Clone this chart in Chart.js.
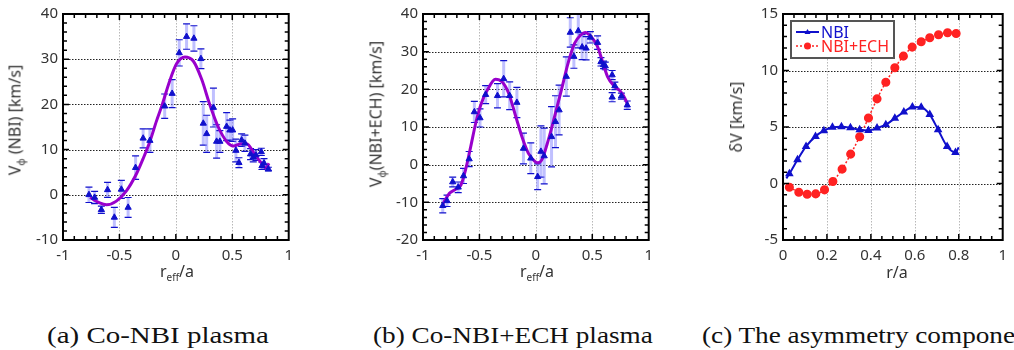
<!DOCTYPE html>
<html>
<head>
<meta charset="utf-8">
<script src="https://cdn.jsdelivr.net/npm/chart.js@4.4.1/dist/chart.umd.min.js"></script>
<style>
body { margin: 0; background: #fff; width: 1014px; height: 350px; overflow: hidden; position: relative; font-family: "Noto Sans", sans-serif; }
.box { position: absolute; top: 0; height: 290px; }
.lab { position: absolute; font-size: 16px; color: #333; white-space: nowrap; line-height: 1; }
.ylab { transform: translate(-50%, -50%) rotate(-90deg); }
.xlab { transform: translate(-50%, -50%); }
.lab sub { font-size: 10px; vertical-align: -4px; }
.cap { position: absolute; top: 323px; font-family: "Liberation Serif", serif; font-size: 24px; line-height: 24px; color: #111; white-space: nowrap; transform-origin: 0 0; }
</style>
</head>
<body>
<div class="box" style="left:0;width:300px"><canvas id="chartA"></canvas></div>
<div class="box" style="left:340px;width:320px"><canvas id="chartB"></canvas></div>
<div class="box" style="left:700px;width:314px"><canvas id="chartC"></canvas></div>

<div class="lab ylab" style="left:16px;top:120px">V<sub>φ</sub> (NBI) [km/s]</div>
<div class="lab xlab" style="left:177px;top:272px">r<sub>eff</sub>/a</div>
<div class="lab ylab" style="left:377px;top:114px">V<sub>φ</sub>(NBI+ECH) [km/s]</div>
<div class="lab xlab" style="left:537px;top:272px">r<sub>eff</sub>/a</div>
<div class="lab ylab" style="left:736px;top:117px">δV [km/s]</div>
<div class="lab xlab" style="left:897px;top:272px">r/a</div>

<div class="cap" id="capA" style="left:47px" data-w="222">(a) Co-NBI plasma</div>
<div class="cap" id="capB" style="left:373px" data-w="280">(b) Co-NBI+ECH plasma</div>
<div class="cap" id="capC" style="left:702px">(c) The asymmetry component</div>

<script>
// (a) Co-NBI: measured points, error bars and fitted curve
const rA = [-0.77, -0.72, -0.66, -0.605, -0.545, -0.483, -0.423, -0.357, -0.29, -0.23,
            -0.099, -0.033, 0.03, 0.095, 0.16, 0.222, 0.243, 0.273, 0.333, 0.361,
            0.39, 0.45, 0.479, 0.503, 0.532, 0.559, 0.583, 0.612, 0.662, 0.686,
            0.71, 0.757, 0.763, 0.781, 0.82]
const vA = [0, -0.6, -3.3, 1.1, -5.0, 1.2, -2.8, 6.0, 12.5, 12.0,
            19.6, 22.4, 31.4, 35.0, 34.6, 30.1, 15.8, 13.5, 19.3, 11.8,
            11.8, 15.1, 14.3, 14.3, 9.8, 7.1, 12.1, 11.4, 9.0, 8.3,
            8.8, 9.5, 6.4, 7.0, 5.7]
const eA = [1.7, 1.35, 0.8, 1.65, 2.2, 2.0, 2.2, 2.6, 2.1, 2.6,
            2.7, 3.1, 2.9, 2.8, 2.8, 2.2, 4.8, 4.1, 4.3, 3.7,
            2.4, 3.1, 2.2, 2.5, 2.5, 1.1, 1.4, 1.8, 1.2, 1.0,
            1.2, 0.8, 0.8, 1.0, 0.4]
const fitRA = [-0.76, -0.675, -0.615, -0.527, -0.44, -0.35, -0.29, -0.23, -0.172, -0.12, -0.06, 0.006,
               0.08, 0.154, 0.228, 0.30, 0.376, 0.45, 0.51, 0.58, 0.627, 0.70, 0.76, 0.80, 0.825]
const fitVA = [-0.6, -1.8, -2.2, -1.4, 0.8, 4.6, 8.0, 11.8, 16.3, 20.0, 24.8, 29.0,
               30.5, 29.6, 25.6, 20.0, 15.0, 11.8, 10.8, 11.3, 11.3, 8.9, 7.0, 5.9, 7.0]

// (b) Co-NBI+ECH
const rB = [-0.825, -0.787, -0.737, -0.688, -0.641, -0.591, -0.545, -0.495, -0.445, -0.34,
            -0.285, -0.232, -0.168, -0.11, -0.045, 0.016, 0.045, 0.074, 0.139, 0.174,
            0.206, 0.27, 0.305, 0.337, 0.376, 0.41, 0.445, 0.483, 0.547, 0.577,
            0.60, 0.615, 0.676, 0.676, 0.70, 0.758, 0.81]
const vB = [-10.9, -9.6, -4.6, -6.0, -3.0, 1.5, 14.0, 12.4, 18.6, 18.3,
            22.8, 18.3, 16.5, 4.3, 1.7, -3.2, 3.5, 2.3, 7.4, 11.4,
            14.5, 23.4, 35.1, 28.7, 35.5, 31.2, 30.9, 33.8, 32.4, 27.3,
            26.5, 26.2, 23.8, 17.9, 20.9, 18.2, 15.8]
const eB = [1.9, 1.5, 1.3, 1.4, 2.0, 2.0, 2.8, 2.4, 2.4, 3.2,
            4.8, 3.7, 4.0, 4.1, 4.1, 3.4, 6.8, 7.4, 8.0, 6.9,
            6.6, 5.2, 3.9, 3.1, 4.5, 3.3, 3.1, 1.5, 1.8, 1.1,
            1.0, 1.0, 1.2, 1.2, 1.0, 0.8, 1.1]
const fitRB = [-0.825, -0.766, -0.708, -0.664, -0.62, -0.577, -0.533, -0.489, -0.43, -0.358,
               -0.30, -0.24, -0.182, -0.124, -0.066, -0.007, 0.016, 0.051, 0.11, 0.168,
               0.226, 0.285, 0.343, 0.40, 0.436, 0.489, 0.547, 0.591, 0.635, 0.693,
               0.752, 0.796, 0.81]
const fitVB = [-10.5, -7.6, -6.5, -5.4, -1.0, 4.8, 11.0, 15.8, 19.8, 22.7,
               22.0, 18.9, 13.2, 7.5, 3.0, 0.8, 0.5, 1.2, 6.5, 13.0,
               19.8, 26.9, 32.2, 34.5, 35.1, 34.0, 31.3, 27.3, 23.4, 20.9,
               19.4, 17.2, 16.1]

// (c) asymmetry component
const rNbi = [0.015, 0.029, 0.066, 0.105, 0.148, 0.186, 0.225, 0.266, 0.307, 0.349, 0.389,
              0.428, 0.468, 0.509, 0.55, 0.589, 0.629, 0.668, 0.706, 0.747, 0.785, 0.80]
const dvNbi = [0.45, 0.86, 2.1, 3.28, 4.17, 4.67, 4.97, 5.03, 4.94, 4.76, 4.70,
               4.91, 5.2, 5.77, 6.33, 6.78, 6.75, 6.1, 4.76, 3.28, 2.75, 3.2]
const rEch = [0.029, 0.072, 0.11, 0.149, 0.189, 0.227, 0.269, 0.308, 0.349, 0.389,
              0.428, 0.468, 0.509, 0.548, 0.588, 0.629, 0.668, 0.708, 0.749, 0.788]
const dvEch = [-0.33, -0.77, -0.95, -0.92, -0.56, 0.18, 1.27, 2.6, 4.14, 5.8,
               7.49, 8.96, 10.24, 11.27, 12.07, 12.54, 12.9, 13.17, 13.34, 13.28]

const BLUE = '#1010cc'
const PURPLE = '#9900cc'
const RED = '#ff2222'
const tickFont = { family: 'Noto Sans', size: 15 }

const pts = (xs, ys) => xs.map((x, i) => ({ x, y: ys[i] }))
const fmt = v => String(+v.toFixed(2))

// dotted grid, inward ticks on all four sides, black frame
const frame = {
  id: 'frame',
  beforeDatasetsDraw(chart, args, o) {
    const { ctx, chartArea: a, scales: { x, y } } = chart
    ctx.save()
    ctx.lineWidth = 1
    ctx.setLineDash([1.5, 1.5])
    ctx.strokeStyle = '#b8b8b8'
    x.ticks.forEach(t => {
      if (t.value <= x.min || t.value >= x.max) return
      const px = Math.round(x.getPixelForValue(t.value)) + 0.5
      ctx.beginPath(); ctx.moveTo(px, a.top); ctx.lineTo(px, a.bottom); ctx.stroke()
    })
    ctx.strokeStyle = '#222'
    y.ticks.forEach(t => {
      if (t.value <= y.min || t.value >= y.max) return
      const py = Math.round(y.getPixelForValue(t.value)) + 0.5
      ctx.beginPath(); ctx.moveTo(a.left, py); ctx.lineTo(a.right, py); ctx.stroke()
    })
    ctx.restore()
  },
  afterDraw(chart, args, o) {
    const { ctx, chartArea: a, scales: { x, y } } = chart
    ctx.save()
    ctx.strokeStyle = '#000'
    ctx.lineWidth = 1.5
    const nx = Math.round((x.max - x.min) / o.xStep)
    for (let i = 1; i < nx; i++) {
      const px = x.getPixelForValue(x.min + i * o.xStep)
      const len = i % o.xEvery === 0 ? 6 : 4
      ctx.beginPath()
      ctx.moveTo(px, a.bottom); ctx.lineTo(px, a.bottom - len)
      ctx.moveTo(px, a.top); ctx.lineTo(px, a.top + len)
      ctx.stroke()
    }
    const ny = Math.round((y.max - y.min) / o.yStep)
    for (let i = 1; i < ny; i++) {
      const py = y.getPixelForValue(y.min + i * o.yStep)
      const len = i % o.yEvery === 0 ? 6 : 4
      ctx.beginPath()
      ctx.moveTo(a.left, py); ctx.lineTo(a.left + len, py)
      ctx.moveTo(a.right, py); ctx.lineTo(a.right - len, py)
      ctx.stroke()
    }
    ctx.lineWidth = 2
    ctx.strokeRect(a.left, a.top, a.right - a.left, a.bottom - a.top)
    ctx.restore()
  }
}

// vertical error bars for datasets that carry an err array
const errbars = {
  id: 'errbars',
  beforeDatasetsDraw(chart) {
    const { ctx, scales: { x, y } } = chart
    ctx.save()
    chart.data.datasets.forEach(ds => {
      if (!ds.err) return
      ds.data.forEach((p, j) => {
        const px = x.getPixelForValue(p.x)
        const top = y.getPixelForValue(p.y + ds.err[j])
        const bot = y.getPixelForValue(p.y - ds.err[j])
        ctx.strokeStyle = 'rgba(130,130,255,0.5)'
        ctx.lineWidth = 3
        ctx.beginPath(); ctx.moveTo(px, top); ctx.lineTo(px, bot); ctx.stroke()
        ctx.strokeStyle = BLUE
        ctx.lineWidth = 1.2
        ctx.beginPath()
        ctx.moveTo(px - 3.5, top); ctx.lineTo(px + 3.5, top)
        ctx.moveTo(px - 3.5, bot); ctx.lineTo(px + 3.5, bot)
        ctx.stroke()
      })
    })
    ctx.restore()
  }
}

// boxed legend inside the plot area of (c)
const boxLegend = {
  id: 'boxLegend',
  afterDraw(chart, args, o) {
    if (!o.show) return
    const { ctx, chartArea: a } = chart
    ctx.save()
    ctx.fillStyle = '#fff'
    ctx.fillRect(a.left + 8, a.top + 7, 103, 37)
    ctx.strokeStyle = '#555'
    ctx.lineWidth = 2
    ctx.strokeRect(a.left + 8, a.top + 7, 103, 37)
    ctx.font = '16px "Noto Sans"'
    ctx.textBaseline = 'middle'
    chart.data.datasets.forEach((ds, i) => {
      const yy = a.top + 18 + i * 14
      ctx.strokeStyle = ds.borderColor
      ctx.lineWidth = ds.borderWidth
      ctx.setLineDash(ds.borderDash || [])
      ctx.beginPath(); ctx.moveTo(a.left + 13, yy); ctx.lineTo(a.left + 36, yy); ctx.stroke()
      ctx.setLineDash([])
      ctx.fillStyle = ds.pointBackgroundColor
      ctx.beginPath()
      if (ds.pointStyle === 'triangle') {
        ctx.moveTo(a.left + 24.5, yy - 3); ctx.lineTo(a.left + 27.5, yy + 2); ctx.lineTo(a.left + 21.5, yy + 2)
      } else {
        ctx.arc(a.left + 24.5, yy, 3.5, 0, Math.PI * 2)
      }
      ctx.fill()
      ctx.fillStyle = ds.borderColor
      ctx.fillText(ds.label, a.left + 38, yy + 1)
    })
    ctx.restore()
  }
}

function axes(xmin, xmax, xstep, ymin, ymax, ystep, yw) {
  return {
    x: {
      type: 'linear', min: xmin, max: xmax,
      grid: { display: false, drawTicks: false }, border: { display: false },
      ticks: { stepSize: xstep, font: tickFont, color: '#333', padding: 7, maxRotation: 0, callback: fmt },
      afterFit(s) { s.height = 50 }
    },
    y: {
      type: 'linear', min: ymin, max: ymax,
      grid: { display: false, drawTicks: false }, border: { display: false },
      ticks: { stepSize: ystep, font: tickFont, color: '#333', padding: 5, callback: fmt },
      afterFit(s) { s.width = yw }
    }
  }
}

function baseOptions(padRight, scales, frameOpts, legendShow) {
  return {
    responsive: false,
    animation: false,
    layout: { padding: { left: 0, right: padRight, top: 14, bottom: 0 } },
    scales,
    plugins: {
      legend: { display: false },
      tooltip: { enabled: false },
      frame: frameOpts,
      boxLegend: { show: legendShow }
    }
  }
}

function profileChart(id, w, padRight, yw, r, v, e, fr, fv, ymin) {
  const cv = document.getElementById(id)
  cv.width = w; cv.height = 290
  return new Chart(cv, {
    type: 'scatter',
    data: {
      datasets: [
        {
          label: 'data', data: pts(r, v), err: e, order: 0,
          pointStyle: 'triangle', pointRadius: 3.6,
          pointBackgroundColor: BLUE, pointBorderColor: BLUE, pointBorderWidth: 1
        },
        {
          label: 'fit', data: pts(fr, fv), showLine: true, order: 1,
          borderColor: PURPLE, borderWidth: 3, pointRadius: 0,
          cubicInterpolationMode: 'monotone'
        }
      ]
    },
    options: baseOptions(padRight, axes(-1, 1, 0.5, ymin, 40, 10, yw),
      { xStep: 0.1, xEvery: 5, yStep: 2, yEvery: 5 }, false),
    plugins: [frame, errbars, boxLegend]
  })
}

profileChart('chartA', 300, 11, 63, rA, vA, eA, fitRA, fitVA, -10)
profileChart('chartB', 320, 8, 83, rB, vB, eB, fitRB, fitVB, -20)

const cvC = document.getElementById('chartC')
cvC.width = 314; cvC.height = 290
new Chart(cvC, {
  type: 'scatter',
  data: {
    datasets: [
      {
        label: 'NBI', data: pts(rNbi, dvNbi), showLine: true,
        borderColor: BLUE, borderWidth: 2, cubicInterpolationMode: 'monotone',
        pointStyle: 'triangle', pointBackgroundColor: BLUE, pointBorderColor: BLUE,
        pointRadius: c => (c.dataIndex === 0 || c.dataIndex === rNbi.length - 1) ? 0 : 3
      },
      {
        label: 'NBI+ECH', data: pts(rEch, dvEch), showLine: true,
        borderColor: RED, borderWidth: 1.5, borderDash: [2, 2], cubicInterpolationMode: 'monotone',
        pointStyle: 'circle', pointRadius: 3.8, pointBackgroundColor: RED, pointBorderColor: RED
      }
    ]
  },
  options: baseOptions(3, axes(0, 1, 0.2, -5, 15, 5, 83),
    { xStep: 0.05, xEvery: 4, yStep: 1, yEvery: 5 }, true),
  plugins: [frame, errbars, boxLegend]
})

// stretch the captions to the widths of the original figure
let sx = 1
;['capA', 'capB'].forEach(id => {
  const el = document.getElementById(id)
  const k = +el.dataset.w / el.offsetWidth
  el.style.transform = 'scaleX(' + k + ')'
  sx = k
})
document.getElementById('capC').style.transform = 'scaleX(' + sx + ')'
</script>
</body>
</html>
